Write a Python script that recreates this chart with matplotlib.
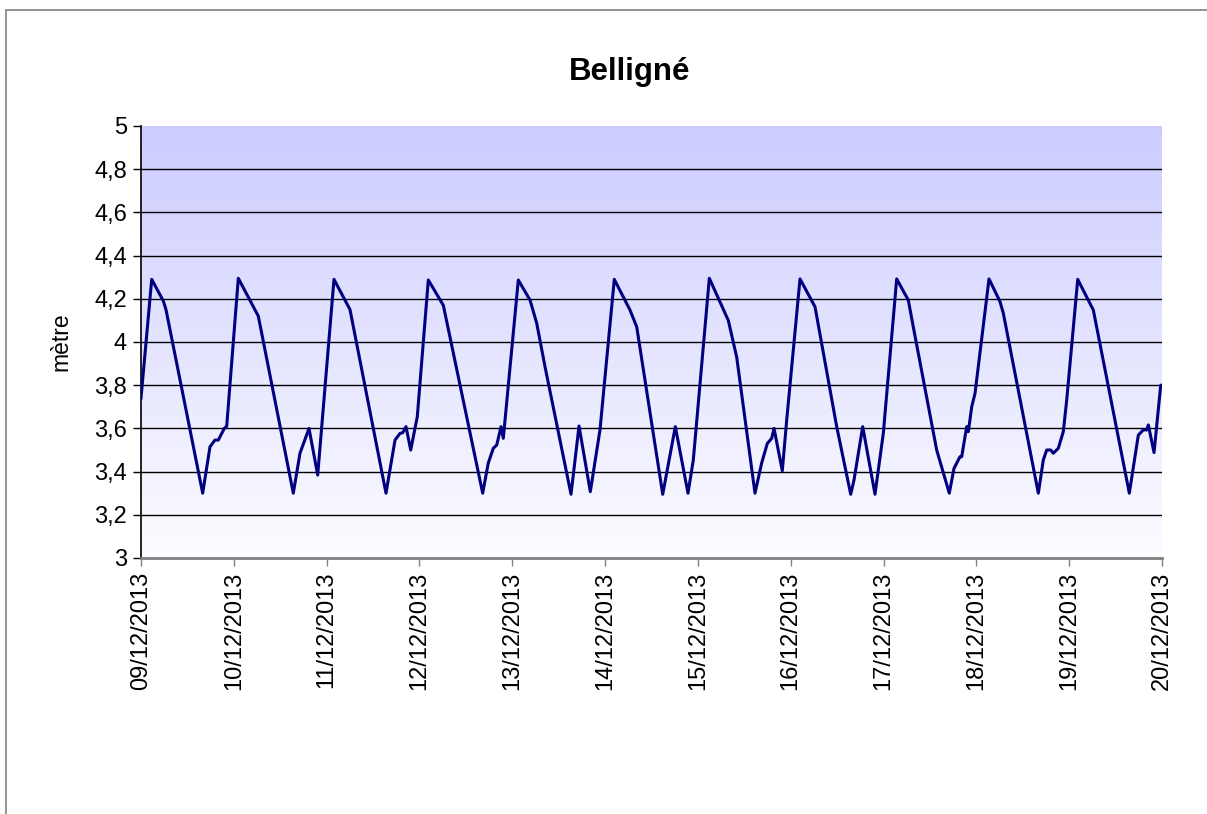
import numpy as np
import matplotlib
matplotlib.use("Agg")
import matplotlib.pyplot as plt
from matplotlib.patches import Rectangle

plt.rcParams['font.family'] = ['Liberation Sans', 'DejaVu Sans']

title = "Belligné"
ylabel = "mètre"
day_labels = ["09/12/2013", "10/12/2013", "11/12/2013", "12/12/2013", "13/12/2013",
              "14/12/2013", "15/12/2013", "16/12/2013", "17/12/2013", "18/12/2013",
              "19/12/2013", "20/12/2013"]
y_ticks = [3, 3.2, 3.4, 3.6, 3.8, 4, 4.2, 4.4, 4.6, 4.8, 5]

# hours since 09/12/2013 00:00
hours = [0.0, 2.77, 5.77, 6.46, 15.95, 17.84, 19.13, 19.99, 21.54, 22.16,
         25.16, 30.33, 39.38, 41.11, 43.44, 45.69,
         49.90, 54.04, 63.35, 65.68, 66.97, 67.67, 68.52, 69.74, 71.44,
         74.29, 78.17, 88.35, 89.80, 91.10, 91.98, 93.09, 93.68,
         97.56, 100.59, 102.32, 104.46, 111.19, 113.26, 116.18, 118.68,
         122.38, 126.44, 128.18, 134.90, 138.16, 141.44, 142.81,
         146.95, 151.86, 154.03, 158.76, 160.49, 161.94, 163.08, 163.68, 165.82, 166.96,
         170.40, 174.28, 179.89, 183.51, 184.36, 186.61, 189.79, 191.94,
         195.40, 198.40, 199.69, 205.74, 209.00, 210.22, 211.77, 212.21, 213.50, 213.92, 214.80, 215.65,
         219.27, 222.11, 222.97, 232.02, 233.31, 234.19, 235.22, 235.90, 237.19, 238.48, 239.36,
         242.21, 246.24, 255.55, 257.88, 259.17, 260.05, 260.47, 261.94, 263.67, 264.0]
level = [3.74, 4.29, 4.19, 4.15, 3.30, 3.515, 3.546, 3.546, 3.60, 3.61,
         4.295, 4.12, 3.30, 3.485, 3.60, 3.384,
         4.29, 4.15, 3.30, 3.546, 3.577, 3.58, 3.608, 3.50, 3.654,
         4.287, 4.17, 3.30, 3.44, 3.508, 3.523, 3.608, 3.554,
         4.287, 4.194, 4.087, 3.886, 3.295, 3.611, 3.307, 3.593,
         4.29, 4.148, 4.07, 3.295, 3.608, 3.30, 3.454,
         4.295, 4.10, 3.93, 3.30, 3.44, 3.53, 3.554, 3.60, 3.404, 3.639,
         4.292, 4.163, 3.608, 3.295, 3.361, 3.608, 3.295, 3.577,
         4.292, 4.194, 4.07, 3.50, 3.30, 3.415, 3.469, 3.469, 3.608, 3.585, 3.70, 3.762,
         4.292, 4.187, 4.133, 3.30, 3.454, 3.50, 3.50, 3.485, 3.508, 3.585, 3.731,
         4.29, 4.148, 3.30, 3.569, 3.593, 3.593, 3.616, 3.488, 3.80, 3.80]

W, H = 1207, 814
fig = plt.figure(figsize=(W / 100, H / 100), dpi=100)
fig.patch.set_facecolor('white')

# outer chart frame
fig.patches.append(Rectangle((6 / W, -0.01), 1.05, 1 - 10 / H + 0.01, transform=fig.transFigure,
                             fill=False, edgecolor='#808080', linewidth=1.2))

ax = fig.add_axes([141 / W, 1 - 558 / H, (1162 - 141) / W, (558 - 126) / H])
ndays = len(day_labels) - 1
x = np.array(hours) / 24.0

# gradient background
grad = np.linspace(0, 1, 256).reshape(-1, 1)
top = np.array([204, 204, 255]) / 255.0
bot = np.array([252, 252, 255]) / 255.0
img = top[None, None, :] * (1 - grad[:, :, None]) + bot[None, None, :] * grad[:, :, None]
ax.imshow(img, extent=[0, ndays, 3, 5], aspect='auto', zorder=0, origin='upper')

ax.set_xlim(0, ndays)
ax.set_ylim(3, 5)
for yv in y_ticks[1:-1]:
    ax.axhline(yv, color='black', linewidth=1.0, zorder=1)

ax.plot(x, level, color='#000080', linewidth=2.2, zorder=3, solid_joinstyle='round')

ax.set_xticks(range(ndays + 1))
ax.set_xticklabels(day_labels, rotation=90, fontsize=17)
ax.set_yticks(y_ticks)
ax.set_yticklabels([str(v).replace('.', ',') if v not in (3, 4, 5) else str(int(v)) for v in y_ticks],
                   fontsize=17)
ax.tick_params(axis='both', direction='out', length=6, width=1, colors='black')
ax.tick_params(axis='x', pad=4, color='#808080')
ax.tick_params(axis='y', pad=4)

for s in ['top', 'right']:
    ax.spines[s].set_visible(False)
ax.spines['left'].set_color('black')
ax.spines['left'].set_linewidth(1.2)
ax.spines['bottom'].set_color('#808080')
ax.spines['bottom'].set_linewidth(2)

ax.set_ylabel(ylabel, fontsize=16.5, labelpad=16)
fig.text(630 / W, 1 - 72 / H, title, ha='center', va='center',
         fontsize=22.5, fontweight='bold')

fig.savefig('out.png', dpi=100)
